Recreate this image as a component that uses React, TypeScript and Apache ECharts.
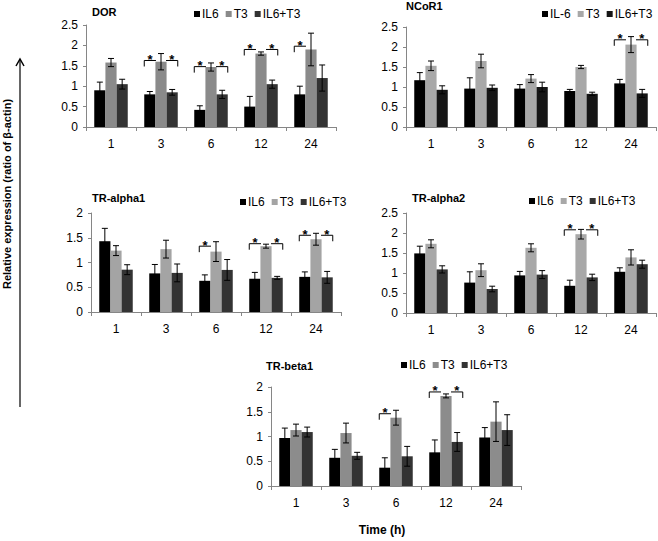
import React, { useEffect, useRef } from "react";
import * as echarts from "echarts";

// ---------- data ----------
const categories = ["1", "3", "6", "12", "24"];

const dorIL6 = [0.9, 0.8, 0.42, 0.5, 0.8];
const dorIL6Err = [0.2, 0.07, 0.1, 0.25, 0.2];
const dorT3 = [1.58, 1.6, 1.47, 1.8, 1.9];
const dorT3Err = [0.1, 0.2, 0.1, 0.04, 0.4];
const dorCombo = [1.05, 0.85, 0.8, 1.05, 1.2];
const dorComboErr = [0.12, 0.07, 0.1, 0.1, 0.32];
const dorBrackets = [[1, 1.63, -1], [1, 1.63, 1], [2, 1.48, -1], [2, 1.48, 1], [3, 1.9, -1], [3, 1.9, 1], [4, 1.98, -1]];

const ncorIL6 = [1.17, 0.96, 0.96, 0.9, 1.09];
const ncorIL6Err = [0.19, 0.27, 0.1, 0.04, 0.1];
const ncorT3 = [1.53, 1.65, 1.21, 1.5, 2.06];
const ncorT3Err = [0.12, 0.17, 0.1, 0.04, 0.2];
const ncorCombo = [0.93, 0.98, 1.0, 0.83, 0.84];
const ncorComboErr = [0.1, 0.07, 0.12, 0.04, 0.1];
const ncorBrackets = [[4, 2.18, -1], [4, 2.18, 1]];

const a1IL6 = [1.43, 0.78, 0.63, 0.67, 0.71];
const a1IL6Err = [0.26, 0.18, 0.12, 0.13, 0.1];
const a1T3 = [1.24, 1.27, 1.22, 1.33, 1.47];
const a1T3Err = [0.1, 0.18, 0.2, 0.04, 0.12];
const a1Combo = [0.855, 0.79, 0.85, 0.69, 0.7];
const a1ComboErr = [0.1, 0.18, 0.21, 0.03, 0.12];
const a1Brackets = [[2, 1.33, -1], [3, 1.38, -1], [3, 1.38, 1], [4, 1.55, -1], [4, 1.55, 1]];

const a2IL6 = [1.49, 0.76, 0.94, 0.68, 1.03];
const a2IL6Err = [0.18, 0.27, 0.1, 0.14, 0.1];
const a2T3 = [1.73, 1.07, 1.63, 1.97, 1.39];
const a2T3Err = [0.1, 0.16, 0.1, 0.12, 0.19];
const a2Combo = [1.09, 0.6, 0.96, 0.89, 1.22];
const a2ComboErr = [0.09, 0.07, 0.1, 0.08, 0.1];
const a2Brackets = [[3, 2.08, -1], [3, 2.08, 1]];

const b1IL6 = [0.97, 0.57, 0.37, 0.68, 0.98];
const b1IL6Err = [0.2, 0.17, 0.2, 0.25, 0.2];
const b1T3 = [1.13, 1.07, 1.38, 1.82, 1.3];
const b1T3Err = [0.12, 0.2, 0.15, 0.04, 0.4];
const b1Combo = [1.09, 0.61, 0.6, 0.89, 1.13];
const b1ComboErr = [0.1, 0.07, 0.2, 0.19, 0.31];
const b1Brackets = [[2, 1.46, -1], [3, 1.9, -1], [3, 1.9, 1]];

const FONT = "'Liberation Sans', Arial, sans-serif";
const GAP = 0.33;

const panels = [
  {
    title: "DOR", names: ["IL6", "T3", "IL6+T3"], colors: ["#000000", "#8a8a8a", "#333333"],
    values: [dorIL6, dorT3, dorCombo], errs: [dorIL6Err, dorT3Err, dorComboErr], brackets: dorBrackets,
    max: 2.5, interval: 0.5, grid: { left: 86, top: 25, width: 250, height: 102 },
    titlePos: { left: 92, top: 6 }, legendPos: { left: 194, top: 8 },
  },
  {
    title: "NCoR1", names: ["IL-6", "T3", "IL6+T3"], colors: ["#000000", "#a8a8a8", "#151515"],
    values: [ncorIL6, ncorT3, ncorCombo], errs: [ncorIL6Err, ncorT3Err, ncorComboErr], brackets: ncorBrackets,
    max: 2.5, interval: 0.5, grid: { left: 406, top: 27, width: 250, height: 100 },
    titlePos: { left: 406, top: 0 }, legendPos: { left: 542, top: 8 },
  },
  {
    title: "TR-alpha1", names: ["IL6", "T3", "IL6+T3"], colors: ["#000000", "#a4a4a4", "#333333"],
    values: [a1IL6, a1T3, a1Combo], errs: [a1IL6Err, a1T3Err, a1ComboErr], brackets: a1Brackets,
    max: 2, interval: 0.5, grid: { left: 91, top: 213, width: 250, height: 99 },
    titlePos: { left: 92, top: 192 }, legendPos: { left: 240, top: 196 },
  },
  {
    title: "TR-alpha2", names: ["IL6", "T3", "IL6+T3"], colors: ["#000000", "#a8a8a8", "#333333"],
    values: [a2IL6, a2T3, a2Combo], errs: [a2IL6Err, a2T3Err, a2ComboErr], brackets: a2Brackets,
    max: 2.5, interval: 0.5, grid: { left: 406, top: 213, width: 250, height: 100 },
    titlePos: { left: 412, top: 192 }, legendPos: { left: 529, top: 195 },
  },
  {
    title: "TR-beta1", names: ["IL6", "T3", "IL6+T3"], colors: ["#000000", "#8c8c8c", "#333333"],
    values: [b1IL6, b1T3, b1Combo], errs: [b1IL6Err, b1T3Err, b1ComboErr], brackets: b1Brackets,
    max: 2, interval: 0.5, grid: { left: 271, top: 387, width: 250, height: 99 },
    titlePos: { left: 266, top: 360 }, legendPos: { left: 401, top: 359 },
  },
];

function errorRender(params: any, api: any) {
  const c = api.value(0);
  const lo = api.value(1);
  const hi = api.value(2);
  const b = api.value(3);
  const pHi = api.coord([c, hi]);
  const pLo = api.coord([c, lo]);
  const cw = api.size([1, 0])[0];
  const bw = (cw * (1 - GAP)) / 3;
  const x = pHi[0] + (b - 1) * bw;
  const cap = 3;
  const style = { stroke: "#000", lineWidth: 1 };
  return {
    type: "group",
    children: [
      { type: "line", shape: { x1: x, y1: pHi[1], x2: x, y2: pLo[1] }, style },
      { type: "line", shape: { x1: x - cap, y1: pHi[1], x2: x + cap, y2: pHi[1] }, style },
      { type: "line", shape: { x1: x - cap, y1: pLo[1], x2: x + cap, y2: pLo[1] }, style },
    ],
  };
}

function bracketRender(params: any, api: any) {
  const c = api.value(0);
  const y = api.value(1);
  const side = api.value(2);
  const p = api.coord([c, y]);
  const cw = api.size([1, 0])[0];
  const bw = (cw * (1 - GAP)) / 3;
  const outer = p[0] + side * 1.5 * bw;
  const inner = p[0] + side * 0.45 * bw;
  return {
    type: "group",
    children: [
      {
        type: "polyline",
        shape: { points: [[outer, p[1] + 6], [outer, p[1]], [inner, p[1]]] },
        style: { stroke: "#000", lineWidth: 1, fill: null },
      },
      {
        type: "text",
        style: {
          text: "*", x: (outer + inner) / 2, y: p[1] - 1,
          align: "center", verticalAlign: "middle",
          font: `bold 13px ${FONT}`, fill: "#000",
        },
      },
    ],
  };
}

function buildOption() {
  const grid: any[] = [];
  const xAxis: any[] = [];
  const yAxis: any[] = [];
  const series: any[] = [];
  const title: any[] = [];
  const legend: any[] = [];

  panels.forEach((pn, i) => {
    grid.push({ ...pn.grid, containLabel: false });
    xAxis.push({
      type: "category", gridIndex: i, data: categories,
      axisLine: { lineStyle: { color: "#868686", width: 1 } },
      axisTick: { show: true, length: 4, lineStyle: { color: "#868686" } },
      axisLabel: { color: "#000", fontSize: 12, fontFamily: FONT, margin: 11 },
    });
    yAxis.push({
      type: "value", gridIndex: i, min: 0, max: pn.max, interval: pn.interval,
      splitLine: { show: false },
      axisLine: { show: true, lineStyle: { color: "#868686", width: 1 } },
      axisTick: { show: true, length: 3, lineStyle: { color: "#868686" } },
      axisLabel: { color: "#000", fontSize: 12, fontFamily: FONT, margin: 8 },
    });
    title.push({
      text: pn.title, ...pn.titlePos, padding: 0,
      textStyle: { fontSize: 11, fontWeight: "bold", fontFamily: FONT, color: "#000" },
    });
    legend.push({
      ...pn.legendPos, orient: "horizontal", selectedMode: false, padding: 0,
      icon: "rect", itemWidth: 6, itemHeight: 6, itemGap: 7,
      textStyle: { fontSize: 12, fontFamily: FONT, color: "#000", padding: [0, 0, 0, -3] },
      data: pn.names.map((n, k) => ({ name: n, itemStyle: { color: pn.colors[k] } })),
    });
    pn.names.forEach((n, k) => {
      series.push({
        type: "bar", name: n, xAxisIndex: i, yAxisIndex: i,
        data: pn.values[k], barGap: "0%", barCategoryGap: `${GAP * 100}%`,
        itemStyle: { color: pn.colors[k] }, silent: true,
      });
    });
    const errData: number[][] = [];
    pn.values.forEach((vals, k) => {
      vals.forEach((v, c) => {
        errData.push([c, v - pn.errs[k][c], v + pn.errs[k][c], k]);
      });
    });
    series.push({
      type: "custom", xAxisIndex: i, yAxisIndex: i, data: errData, z: 5,
      renderItem: errorRender, encode: { x: 0, y: [1, 2] }, silent: true,
    });
    series.push({
      type: "custom", xAxisIndex: i, yAxisIndex: i, data: pn.brackets, z: 6,
      renderItem: bracketRender, encode: { x: 0, y: 1 }, silent: true,
    });
  });

  return {
    animation: false,
    backgroundColor: "#ffffff",
    textStyle: { fontFamily: FONT },
    title, legend, grid, xAxis, yAxis, series,
    graphic: [
      {
        type: "text", x: 7, y: 194, rotation: Math.PI / 2,
        style: {
          text: "Relative expression (ratio of β-actin)", align: "center", verticalAlign: "middle",
          font: `bold 11px ${FONT}`, fill: "#000",
        },
      },
      { type: "line", shape: { x1: 20, y1: 60, x2: 20, y2: 407 }, style: { stroke: "#333", lineWidth: 1.5 } },
      { type: "polyline", shape: { points: [[16, 66], [20, 59], [24, 66]] }, style: { stroke: "#000", lineWidth: 1.5, fill: null } },
      {
        type: "text", x: 382, y: 530,
        style: { text: "Time (h)", align: "center", verticalAlign: "middle", font: `bold 12px ${FONT}`, fill: "#000" },
      },
    ],
  };
}

export default function App() {
  const ref = useRef<HTMLDivElement>(null);
  useEffect(() => {
    document.body.style.margin = "0";
    if (!ref.current) return;
    const chart = echarts.init(ref.current, undefined, { renderer: "svg" });
    chart.setOption(buildOption() as any);
    return () => chart.dispose();
  }, []);
  return <div ref={ref} style={{ width: 658, height: 541 }} />;
}
